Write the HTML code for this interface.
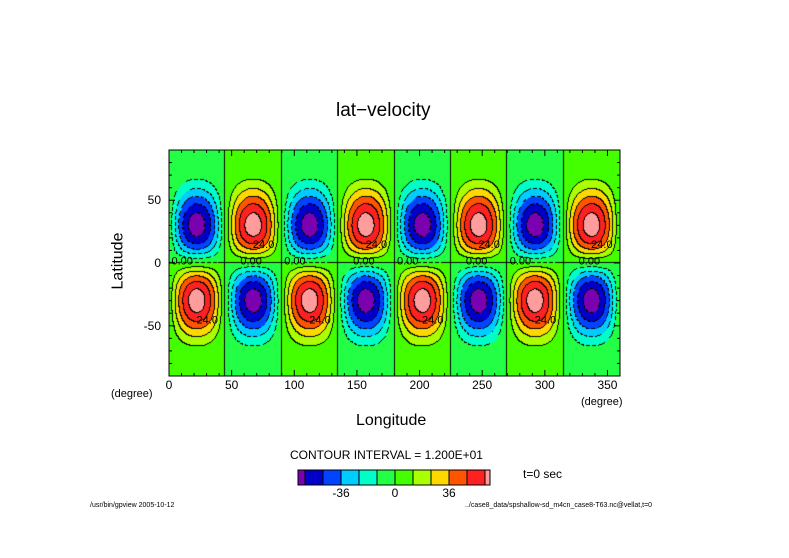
<!DOCTYPE html>
<html><head><meta charset="utf-8"><style>
body{margin:0;background:#fff;width:789px;height:558px;position:relative;overflow:hidden;font-family:"Liberation Sans",sans-serif}
.t{position:absolute;white-space:nowrap;color:#000}
canvas{position:absolute;left:169px;top:150px}
</style></head><body>
<div class="t" style="left:336px;top:100px;font-size:19px">lat−velocity</div>
<canvas id="c" width="451" height="226"></canvas>
<svg id="ax" width="789" height="558" style="position:absolute;left:0;top:0"></svg>
<div class="t" style="left:90px;top:252px;font-size:16px;transform:rotate(-90deg)">Latitude</div>
<div class="t" style="left:356px;top:412px;font-size:16px">Longitude</div>
<div class="t" style="left:111px;top:388px;font-size:11px">(degree)</div>
<div class="t" style="left:581px;top:396px;font-size:11px">(degree)</div>
<div class="t" style="left:290px;top:448px;font-size:12px">CONTOUR INTERVAL = 1.200E+01</div>
<div class="t" style="left:523px;top:467px;font-size:12px">t=0 sec</div>
<div class="t" style="left:90px;top:502px;font-size:7px">/usr/bin/gpview 2005-10-12</div>
<div class="t" style="left:465px;top:502px;font-size:7px">../case8_data/spshallow-sd_m4cn_case8-T63.nc@vellat,t=0</div>
<script>
const bandColors=["#7a00b0","#0000c8","#0044ff","#00ccff","#00ffc8","#22ff44","#44ff00","#aaff00","#ffd800","#ff5500","#ff2020","#ff9c9c"];
const bandEdges=[-60,-48,-36,-24,-12,0,12,24,36,48,60];
const amplitude=[67];
const zonalWavenumber=[4];
const cbLabels=["-36","0","36"];
const cbLabelVals=[-36,0,36];
const xTicks=[0,50,100,150,200,250,300,350];
const yTicks=[-50,0,50];
const W=451,H=226,X0=169,Y0=150;
const xs=l=>l/360*W, ys=p=>(90-p)/180*H;
function field(lon,lat){const r=Math.PI/180;const f=2*Math.sin(lat*r)*Math.pow(Math.cos(lat*r),3)/0.6495;return -amplitude[0]*Math.sin(zonalWavenumber[0]*lon*r)*f;}
function band(v){let i=0;while(i<bandEdges.length&&v>=bandEdges[i])i++;return i;}
const c=document.getElementById('c'),ctx=c.getContext('2d');
const img=ctx.createImageData(W,H);
const B=[],V=[];
for(let y=0;y<H;y++){B.push([]);V.push([]);for(let x=0;x<W;x++){const v=field((x+0.5)/W*360,90-(y+0.5)/H*180);V[y].push(v);B[y].push(band(v));}}
function hex(h){return [parseInt(h.substr(1,2),16),parseInt(h.substr(3,2),16),parseInt(h.substr(5,2),16)];}
for(let y=0;y<H;y++)for(let x=0;x<W;x++){
let col=hex(bandColors[B[y][x]]);
const b=B[y][x];
const edge=(x+1<W&&B[y][x+1]!==b)||(y+1<H&&B[y+1][x]!==b);
if(edge){const neg=V[y][x]<-0.5&&(x+1<W?V[y][x+1]:0)<-0.5;if(!neg||((x+y)%6)<4)col=[0,0,0];}
const k=(y*W+x)*4;img.data[k]=col[0];img.data[k+1]=col[1];img.data[k+2]=col[2];img.data[k+3]=255;}
ctx.putImageData(img,0,0);
const NS='http://www.w3.org/2000/svg',svg=document.getElementById('ax');
function el(t,a,p){const e=document.createElementNS(NS,t);for(const k in a)e.setAttribute(k,a[k]);(p||svg).appendChild(e);return e;}
const fr=el('rect',{x:X0,y:Y0,width:W,height:H,fill:'none',stroke:'#000','stroke-width':1});


for(let l=0;l<=360;l+=10){const x=X0+xs(l),L=l%50===0?6:3;el('line',{x1:x,x2:x,y1:Y0+H,y2:Y0+H-L,stroke:'#000'});el('line',{x1:x,x2:x,y1:Y0,y2:Y0+L,stroke:'#000'});}
for(let p=-90;p<=90;p+=10){const y=Y0+ys(p),L=p%50===0?6:3;el('line',{x1:X0,x2:X0+L,y1:y,y2:y,stroke:'#000'});el('line',{x1:X0+W,x2:X0+W-L,y1:y,y2:y,stroke:'#000'});}
xTicks.forEach(t=>{const e=el('text',{x:X0+xs(t),y:Y0+H+13,'font-size':12,'text-anchor':'middle'});e.textContent=t;

});
yTicks.forEach(t=>{const e=el('text',{x:X0-8,y:Y0+ys(t)+4,'font-size':12,'text-anchor':'end'});e.textContent=t;

});
for(let i=0;i<8;i++){const e=el('text',{x:X0+xs(i*45+(i%2?12:2)),y:Y0+ys(-1),'font-size':11});e.textContent='0.00';


const f=el('text',{x:X0+xs(i*45+22),y:Y0+ys(i%2?12:-48),'font-size':11});f.textContent='24.0';

}
const cbS=(v)=>395+v/12*18;
bandColors.forEach((col,i)=>{const x1=i===0?cbS(-60)-7:cbS(bandEdges[i-1]);const x2=i===bandColors.length-1?cbS(60)+5:cbS(bandEdges[i]);
const r=el('rect',{x:x1,y:470,width:x2-x1,height:15,fill:col,stroke:'#000','stroke-width':1});

});
cbLabelVals.forEach((v,i)=>{const e=el('text',{x:cbS(v),y:497,'font-size':12,'text-anchor':'middle'});e.textContent=cbLabels[i];

});
</script>
</body></html>
